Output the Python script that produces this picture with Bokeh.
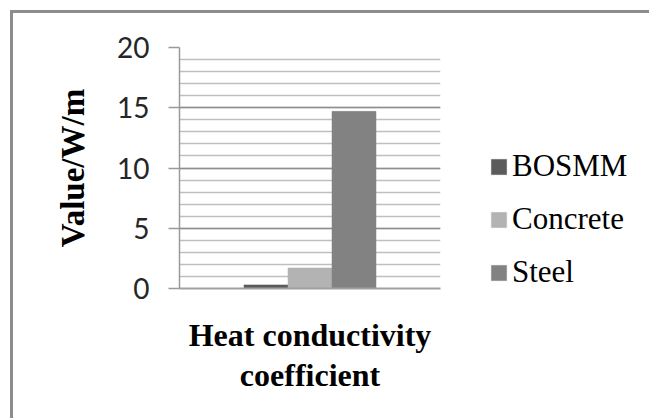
from bokeh.plotting import figure
from bokeh.models import FactorRange, Range1d, Legend, LegendItem, FixedTicker, ColumnDataSource
from bokeh.transform import dodge
from bokeh.embed import file_html
from bokeh.resources import INLINE

categories = ["Heat conductivity coefficient"]
series = ["BOSMM", "Concrete", "Steel"]
bosmm = [0.3]
concrete = [1.7]
steel = [14.7]
colors = ["#5b5b5b", "#b3b3b3", "#828282"]
y_ticks = [0, 5, 10, 15, 20]
y_minor = list(range(0, 21))

source = ColumnDataSource(data=dict(cat=categories, BOSMM=bosmm, Concrete=concrete, Steel=steel))

p = figure(x_range=FactorRange(factors=categories), y_range=Range1d(0, 20),
           frame_width=261, frame_height=241,
           min_border_left=166, min_border_top=34, min_border_right=208, min_border_bottom=130,
           output_backend="svg", toolbar_location=None, tools="")
p.styles = {"margin-left": "10px", "margin-top": "10px",
            "border-left": "3px solid #8c8c8c", "border-top": "3px solid #8c8c8c"}
p.outline_line_color = None
p.background_fill_color = "white"
p.border_fill_color = "white"

bw = 0.1686
items = []
for i, s in enumerate(series):
    r = p.vbar(x=dodge("cat", (i - 1) * bw, range=p.x_range), top=s, width=bw, source=source,
               fill_color=colors[i], line_color=colors[i], line_width=0.5)
    items.append(LegendItem(label=s, renderers=[r]))

p.xgrid.grid_line_color = None
p.ygrid.ticker = FixedTicker(ticks=y_ticks, minor_ticks=y_minor)
p.ygrid.grid_line_color = "#8e8e8e"
p.ygrid.grid_line_width = 1.5
p.ygrid.minor_grid_line_color = "#bfbfbf"
p.ygrid.minor_grid_line_width = 1.4

ya = p.yaxis[0]
ya.ticker = FixedTicker(ticks=y_ticks)
ya.axis_line_color = "#9a9a9a"
ya.axis_line_width = 1.5
ya.major_tick_line_color = "#9a9a9a"
ya.major_tick_line_width = 1.5
ya.major_tick_out = 11
ya.major_tick_in = 0
ya.minor_tick_line_color = None
ya.major_label_text_font = "Lato"
ya.major_label_text_font_size = "28px"
ya.major_label_text_color = "#262626"
ya.major_label_standoff = 19
ya.axis_label = "Value/W/m"
ya.axis_label_text_font = "Liberation Serif"
ya.axis_label_text_font_style = "bold"
ya.axis_label_text_font_size = "33px"
ya.axis_label_text_color = "black"
ya.axis_label_standoff = 23

xa = p.xaxis[0]
xa.axis_line_color = "#a0a0a0"
xa.axis_line_width = 2
xa.major_tick_line_color = None
xa.major_tick_out = 0
xa.minor_tick_line_color = None
xa.major_label_text_color = None
xa.major_label_standoff = 0
xa.axis_label = "Heat conductivity\ncoefficient"
xa.axis_label_text_font = "Liberation Serif"
xa.axis_label_text_font_style = "bold"
xa.axis_label_text_font_size = "32px"
xa.axis_label_text_line_height = 1.12
xa.axis_label_text_color = "black"
xa.axis_label_text_align = "center"
xa.axis_label_standoff = 28

legend = Legend(items=items, location=(49, -2), orientation="vertical",
                label_text_font="Liberation Serif", label_text_font_size="31px",
                label_text_color="black", glyph_width=19, glyph_height=19,
                label_height=36, label_standoff=4, spacing=17, padding=0, margin=0,
                border_line_color=None, background_fill_alpha=0)
p.add_layout(legend, "right")

open("out.html", "w").write(file_html(p, INLINE))
